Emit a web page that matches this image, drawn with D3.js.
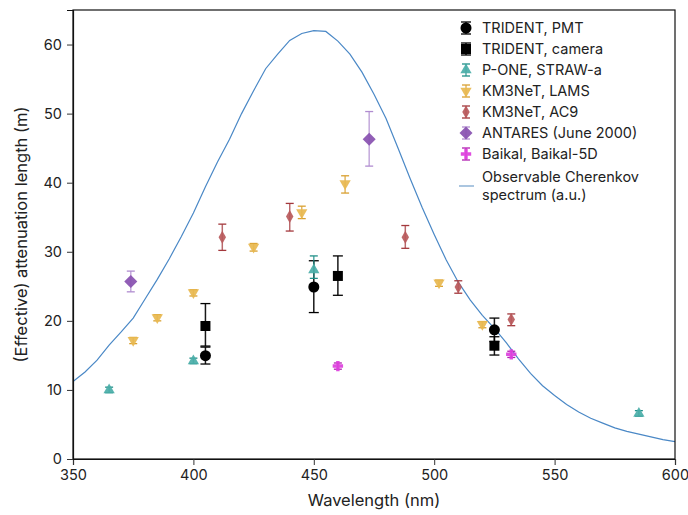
<!DOCTYPE html>
<html>
<head>
<meta charset="utf-8">
<script src="https://cdn.jsdelivr.net/npm/d3@7"></script>
<style>
  body { margin: 0; background: #fff; }
  text { font-family: Inter, "Open Sans", sans-serif; fill: #222; }
  .lab { font-size: 16.5px; }
  .leg { font-size: 14.5px; }
</style>
</head>
<body>
<div id="chart"></div>
<script>
// points are [wavelength, value, errLow, errHigh]
var tridentPmt = [[405, 14.95, 13.75, 16.2], [450, 24.9, 21.2, 28.7], [525, 18.7, 17.0, 20.4]];
var tridentCam = [[405, 19.25, 16.35, 22.5], [460, 26.5, 23.7, 29.4], [525, 16.4, 15.05, 17.7]];
var poneStraw = [[365, 10.0, 9.6, 10.4], [400, 14.2, 13.8, 14.6], [450, 27.35, 26.15, 29.4], [585, 6.6, 6.2, 7.0]];
var km3Lams = [[375, 17.2, 16.7, 17.6], [385, 20.5, 20.0, 20.9], [400, 24.1, 23.6, 24.5], [425, 30.7, 30.1, 31.2],
               [445, 35.7, 34.8, 36.6], [463, 39.9, 38.5, 41.0], [502, 25.5, 25.0, 25.9], [520, 19.5, 19.0, 19.9]];
var km3Ac9 = [[412, 32.1, 30.2, 34.0], [440, 35.1, 33.0, 37.0], [488, 32.1, 30.5, 33.8], [510, 24.9, 24.0, 25.8], [532, 20.2, 19.3, 21.0]];
var antares = [[374, 25.7, 24.2, 27.2], [473, 46.3, 42.4, 50.3]];
var baikal = [[460, 13.45, 13.0, 13.9], [532, 15.15, 14.7, 15.6]];

var cherenkovWl = [350, 355, 360, 365, 370, 375, 380, 385, 390, 395, 400, 405, 410, 415, 420, 425, 430, 435, 440, 445,
                   450, 455, 460, 465, 470, 475, 480, 485, 490, 495, 500, 505, 510, 515, 520, 525, 530, 535, 540, 545,
                   550, 555, 560, 565, 570, 575, 580, 585, 590, 595, 600];
var cherenkovVal = [11.2, 12.6, 14.3, 16.5, 18.4, 20.4, 23.2, 26.0, 29.0, 32.2, 35.6, 39.4, 43.0, 46.3, 50.0, 53.3, 56.5, 58.6, 60.6, 61.6,
                    62.0, 61.9, 60.5, 58.6, 56.0, 52.8, 49.3, 45.0, 40.6, 36.4, 32.5, 28.8, 25.6, 23.0, 20.8, 18.9, 16.8, 14.5, 12.4, 10.6,
                    9.2, 7.9, 6.8, 5.9, 5.2, 4.5, 4.0, 3.6, 3.2, 2.8, 2.5];

var xTicks = [350, 400, 450, 500, 550, 600];
var yTicks = [0, 10, 20, 30, 40, 50, 60];

var series = [
  {name: 'TRIDENT, PMT', data: tridentPmt, color: '#000', bar: '#000', sym: d3.symbolCircle, size: 95, rot: 0, cap: 5},
  {name: 'TRIDENT, camera', data: tridentCam, color: '#000', bar: '#000', sym: d3.symbolSquare, size: 100, rot: 0, cap: 5},
  {name: 'P-ONE, STRAW-a', data: poneStraw, color: '#4aaea8', bar: '#1f8f88', sym: d3.symbolTriangle, size: 55, rot: 0, cap: 4},
  {name: 'KM3NeT, LAMS', data: km3Lams, color: '#e8b850', bar: '#d9a030', sym: d3.symbolTriangle, size: 55, rot: 180, cap: 4},
  {name: 'KM3NeT, AC9', data: km3Ac9, color: '#b85a5c', bar: '#a3383c', sym: d3.symbolDiamond, size: 48, rot: 0, cap: 4},
  {name: 'ANTARES (June 2000)', data: antares, color: '#8850b0', bar: '#b08cd0', sym: d3.symbolSquare, size: 85, rot: 45, cap: 4},
  {name: 'Baikal, Baikal-5D', data: baikal, color: '#dd3fdd', bar: '#b020b0', sym: d3.symbolCross, size: 60, rot: 0, cap: 4}
];

var width = 688, height = 515;
var margin = {top: 10, right: 13, bottom: 56, left: 73};

var svg = d3.select('#chart').append('svg')
  .attr('width', width).attr('height', height);

var x = d3.scaleLinear().domain([350, 600]).range([margin.left, width - margin.right]);
var y = d3.scaleLinear().domain([0, 65]).range([height - margin.bottom, margin.top]);

svg.append('clipPath').attr('id', 'clip')
  .append('rect')
  .attr('x', x(350)).attr('y', y(65))
  .attr('width', x(600) - x(350)).attr('height', y(0) - y(65));

// curve
var line = d3.line()
  .x(function(d, i) { return x(cherenkovWl[i]); })
  .y(function(d) { return y(d); });

svg.append('path')
  .datum(cherenkovVal)
  .attr('clip-path', 'url(#clip)')
  .attr('d', line)
  .attr('fill', 'none')
  .attr('stroke', '#4a88c6')
  .attr('stroke-width', 1.2);

// frame
svg.append('rect')
  .attr('x', x(350)).attr('y', y(65))
  .attr('width', x(600) - x(350)).attr('height', y(0) - y(65))
  .attr('fill', 'none').attr('stroke', '#111').attr('stroke-width', 1.2);

// axes
var xAxis = svg.append('g')
  .attr('transform', 'translate(0,' + y(0) + ')')
  .call(d3.axisBottom(x).tickValues(xTicks).tickSize(6).tickPadding(5));
var yAxis = svg.append('g')
  .attr('transform', 'translate(' + x(350) + ',0)')
  .call(d3.axisLeft(y).tickValues(yTicks).tickSize(6).tickPadding(5));
[xAxis, yAxis].forEach(function(a) {
  a.selectAll('path').attr('stroke', '#111').attr('stroke-width', 1.2);
  a.selectAll('line').attr('stroke', '#333');
  a.selectAll('text').attr('font-family', 'Inter, sans-serif').attr('font-size', 14.5).attr('fill', '#222');
});

svg.append('text').attr('class', 'lab')
  .attr('x', (x(350) + x(600)) / 2).attr('y', 506)
  .attr('text-anchor', 'middle')
  .text('Wavelength (nm)');
svg.append('text').attr('class', 'lab')
  .attr('transform', 'translate(27,' + y(32.5) + ') rotate(-90)')
  .attr('text-anchor', 'middle')
  .text('(Effective) attenuation length (m)');

// points
function drawMark(g, s, cx, cy, lo, hi) {
  if (lo != null) {
    g.append('line').attr('x1', cx).attr('x2', cx).attr('y1', lo).attr('y2', hi)
      .attr('stroke', s.bar).attr('stroke-width', 1.5).attr('opacity', s.bar === '#000' ? 0.9 : 0.75);
    [lo, hi].forEach(function(v) {
      g.append('line').attr('x1', cx - s.cap).attr('x2', cx + s.cap).attr('y1', v).attr('y2', v)
        .attr('stroke', s.bar).attr('stroke-width', 1.3);
    });
  }
  g.append('path')
    .attr('d', d3.symbol().type(s.sym).size(s.size))
    .attr('transform', 'translate(' + cx + ',' + cy + ') rotate(' + s.rot + ')')
    .attr('fill', s.color)
    .attr('opacity', s.color === '#000' ? 1 : 0.92);
}

series.forEach(function(s) {
  var g = svg.append('g');
  s.data.forEach(function(d) {
    drawMark(g, s, x(d[0]), y(d[1]), y(d[2]), y(d[3]));
  });
});

// legend
var leg = svg.append('g');
series.forEach(function(s, i) {
  var ly = 28 + i * 21;
  drawMark(leg, s, 466, ly, ly - 6, ly + 6);
  leg.append('text').attr('class', 'leg')
    .attr('x', 482).attr('y', ly).attr('dy', '0.35em')
    .text(s.name);
});
leg.append('line')
  .attr('x1', 459).attr('x2', 474).attr('y1', 186).attr('y2', 186)
  .attr('stroke', '#8fb3d6').attr('stroke-width', 1.5);
leg.append('text').attr('class', 'leg').attr('x', 482).attr('y', 177).attr('dy', '0.35em')
  .text('Observable Cherenkov');
leg.append('text').attr('class', 'leg').attr('x', 482).attr('y', 195).attr('dy', '0.35em')
  .text('spectrum (a.u.)');
</script>
</body>
</html>
